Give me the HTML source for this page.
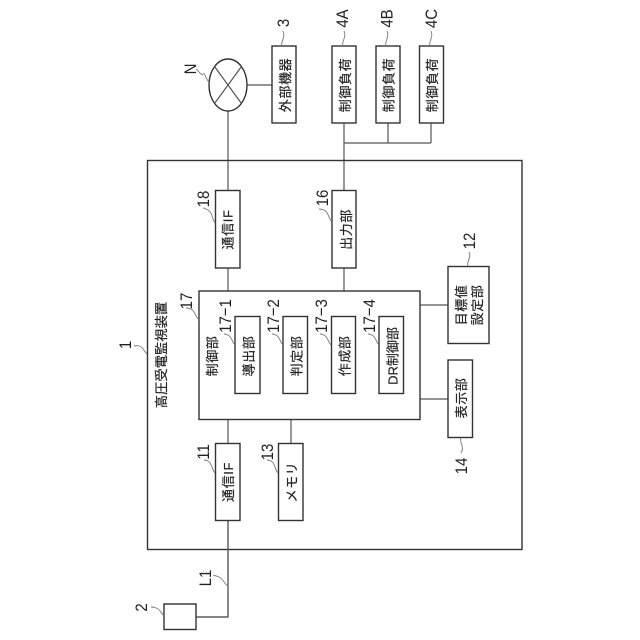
<!DOCTYPE html>
<html><head><meta charset="utf-8"><style>
html,body{margin:0;padding:0;background:#fff}
svg{display:block}
.b{fill:#fff;stroke:#333;stroke-width:1.4}
.l{fill:none;stroke:#555;stroke-width:1.2}
.s{fill:none;stroke:#777;stroke-width:.9}
text{fill:#222;font-family:"Liberation Sans","Noto Sans CJK JP",sans-serif;text-anchor:middle}
.t{font-size:13px;letter-spacing:.6px;stroke:#222;stroke-width:.2}
.n{font-size:15px}
</style></head><body>
<svg width="640" height="640" viewBox="0 0 640 640" xmlns="http://www.w3.org/2000/svg">
<!-- connectors -->
<path class="l" d="M228 111V190M246.500 85H272M344 123V190M388 123V143M431 123V143M344 143H431M228 268V291M344 268V291M228 419V443M291 419V443M420 305H448M420 399H448M228 520V617H196"/>
<!-- outer -->
<rect class="b" x="147.500" y="160.500" width="374.500" height="389" style="fill:none"/>
<path class="l" d="M228 520V617H196"/>
<!-- N -->
<ellipse class="b" cx="228" cy="85" rx="19" ry="26"/>
<path class="l" d="M214.500 66.500L241.500 103.500M241.500 66.500L214.500 103.500"/>
<!-- boxes -->
<rect class="b" x="272" y="46" width="24" height="77"/>
<rect class="b" x="332" y="46" width="24" height="77"/>
<rect class="b" x="376" y="46" width="24" height="77"/>
<rect class="b" x="419.500" y="46" width="24" height="77"/>
<rect class="b" x="215.500" y="190.500" width="24.500" height="77.500"/>
<rect class="b" x="332" y="190.500" width="24" height="77.500"/>
<rect class="b" x="199" y="291" width="221" height="128.500"/>
<rect class="b" x="235" y="316.500" width="25" height="77"/>
<rect class="b" x="283" y="316.500" width="24.500" height="77"/>
<rect class="b" x="331.500" y="316.500" width="24" height="77"/>
<rect class="b" x="379" y="316.500" width="24.500" height="77"/>
<rect class="b" x="448" y="266.500" width="41" height="77"/>
<rect class="b" x="448" y="360" width="24.500" height="77.500"/>
<rect class="b" x="215.500" y="443.500" width="24.500" height="77"/>
<rect class="b" x="278.500" y="443.500" width="24.500" height="77"/>
<rect class="b" x="164" y="604" width="32" height="25.500"/>
<!-- squiggle leaders -->
<path class="s" d="M209 82C206 80 205 72 203 74C201 76 199 71 196 69"/>
<path class="s" d="M282 46C280 42 286 38 283 31"/>
<path class="s" d="M343 46C341 42 347 37 344 31"/>
<path class="s" d="M386 46C384 42 390 37 387 31"/>
<path class="s" d="M430 46C428 42 434 37 431 31"/>
<path class="s" d="M215 223C212 218 212 212 208 210C205 209 205 208 203 208"/>
<path class="s" d="M331 221C328 216 328 212 324 210C321 209 321 209 319 209"/>
<path class="s" d="M199 320C195 316 195 311 191 309C188 308 188 308 186 308"/>
<path class="s" d="M235 345C232 342 232 337 228 335C226 334 226 334 224 334"/>
<path class="s" d="M283 345C280 342 280 337 276 335C274 334 274 334 272 334"/>
<path class="s" d="M331 345C328 342 328 337 324 335C322 334 322 334 320 334"/>
<path class="s" d="M379 345C376 342 376 337 372 335C370 334 370 334 368 334"/>
<path class="s" d="M147 354C143 350 143 347 139 346C136 345 136 346 134 346"/>
<path class="s" d="M468 266C466 262 472 257 469 252"/>
<path class="s" d="M461 438C459 442 465 447 461 453"/>
<path class="s" d="M215 473C212 470 212 463 208 461C206 460 206 460 204 460"/>
<path class="s" d="M278 473C275 470 275 463 271 461C269 460 269 460 267 460"/>
<path class="s" d="M228 586C224 584 223 578 219 577C217 576 216 576 213 575"/>
<path class="s" d="M164 616C161 613 160 609 156 608C154 607 153 607 151 607"/>
<!-- box labels -->
<text class="t" transform="translate(290,85) rotate(-90)">外部機器</text>
<text class="t" transform="translate(350,85) rotate(-90)">制御負荷</text>
<text class="t" transform="translate(393.500,85) rotate(-90)">制御負荷</text>
<text class="t" transform="translate(437,85) rotate(-90)">制御負荷</text>
<text class="t" transform="translate(232.500,229.500) rotate(-90)">通信IF</text>
<text class="t" transform="translate(351,229.500) rotate(-90)">出力部</text>
<text class="t" transform="translate(217,356) rotate(-90)">制御部</text>
<text class="t" transform="translate(253.500,356) rotate(-90)">導出部</text>
<text class="t" transform="translate(301.500,356) rotate(-90)">判定部</text>
<text class="t" transform="translate(349.500,356) rotate(-90)">作成部</text>
<text class="t" transform="translate(397.500,356) rotate(-90)" style="letter-spacing:0">DR制御部</text>
<text class="t" transform="translate(466,305) rotate(-90)">目標値</text>
<text class="t" transform="translate(482,305) rotate(-90)">設定部</text>
<text class="t" transform="translate(466,398) rotate(-90)">表示部</text>
<text class="t" transform="translate(233,482) rotate(-90)">通信IF</text>
<text class="t" transform="translate(296.500,482) rotate(-90)">メモリ</text>
<text class="t" transform="translate(166,355) rotate(-90)" style="font-size:13.300px;letter-spacing:0">高圧受電監視装置</text>
<!-- reference labels -->
<text class="n" transform="translate(196,69) rotate(-90) scale(1,1.120)">N</text>
<text class="n" transform="translate(289,23) rotate(-90) scale(1,1.120)">3</text>
<text class="n" transform="translate(348,18.500) rotate(-90) scale(1,1.120)">4A</text>
<text class="n" transform="translate(392.500,18.500) rotate(-90) scale(1,1.120)">4B</text>
<text class="n" transform="translate(437,18.500) rotate(-90) scale(1,1.120)">4C</text>
<text class="n" transform="translate(209,199) rotate(-90) scale(1,1.120)">18</text>
<text class="n" transform="translate(328,198) rotate(-90) scale(1,1.120)">16</text>
<text class="n" transform="translate(192,301) rotate(-90) scale(1,1.120)">17</text>
<text class="n" transform="translate(231,316) rotate(-90) scale(1,1.120)">17−1</text>
<text class="n" transform="translate(279,316) rotate(-90) scale(1,1.120)">17−2</text>
<text class="n" transform="translate(327,316) rotate(-90) scale(1,1.120)">17−3</text>
<text class="n" transform="translate(375,316) rotate(-90) scale(1,1.120)">17−4</text>
<text class="n" transform="translate(475,241) rotate(-90) scale(1,1.120)">12</text>
<text class="n" transform="translate(467,466) rotate(-90) scale(1,1.120)">14</text>
<text class="n" transform="translate(131,345) rotate(-90) scale(1,1.120)">1</text>
<text class="n" transform="translate(209,452) rotate(-90) scale(1,1.120)">11</text>
<text class="n" transform="translate(273,452) rotate(-90) scale(1,1.120)">13</text>
<text class="n" transform="translate(211,578) rotate(-90) scale(1,1.120)">L1</text>
<text class="n" transform="translate(147,607.500) rotate(-90) scale(1,1.120)">2</text>
</svg>
</body></html>
